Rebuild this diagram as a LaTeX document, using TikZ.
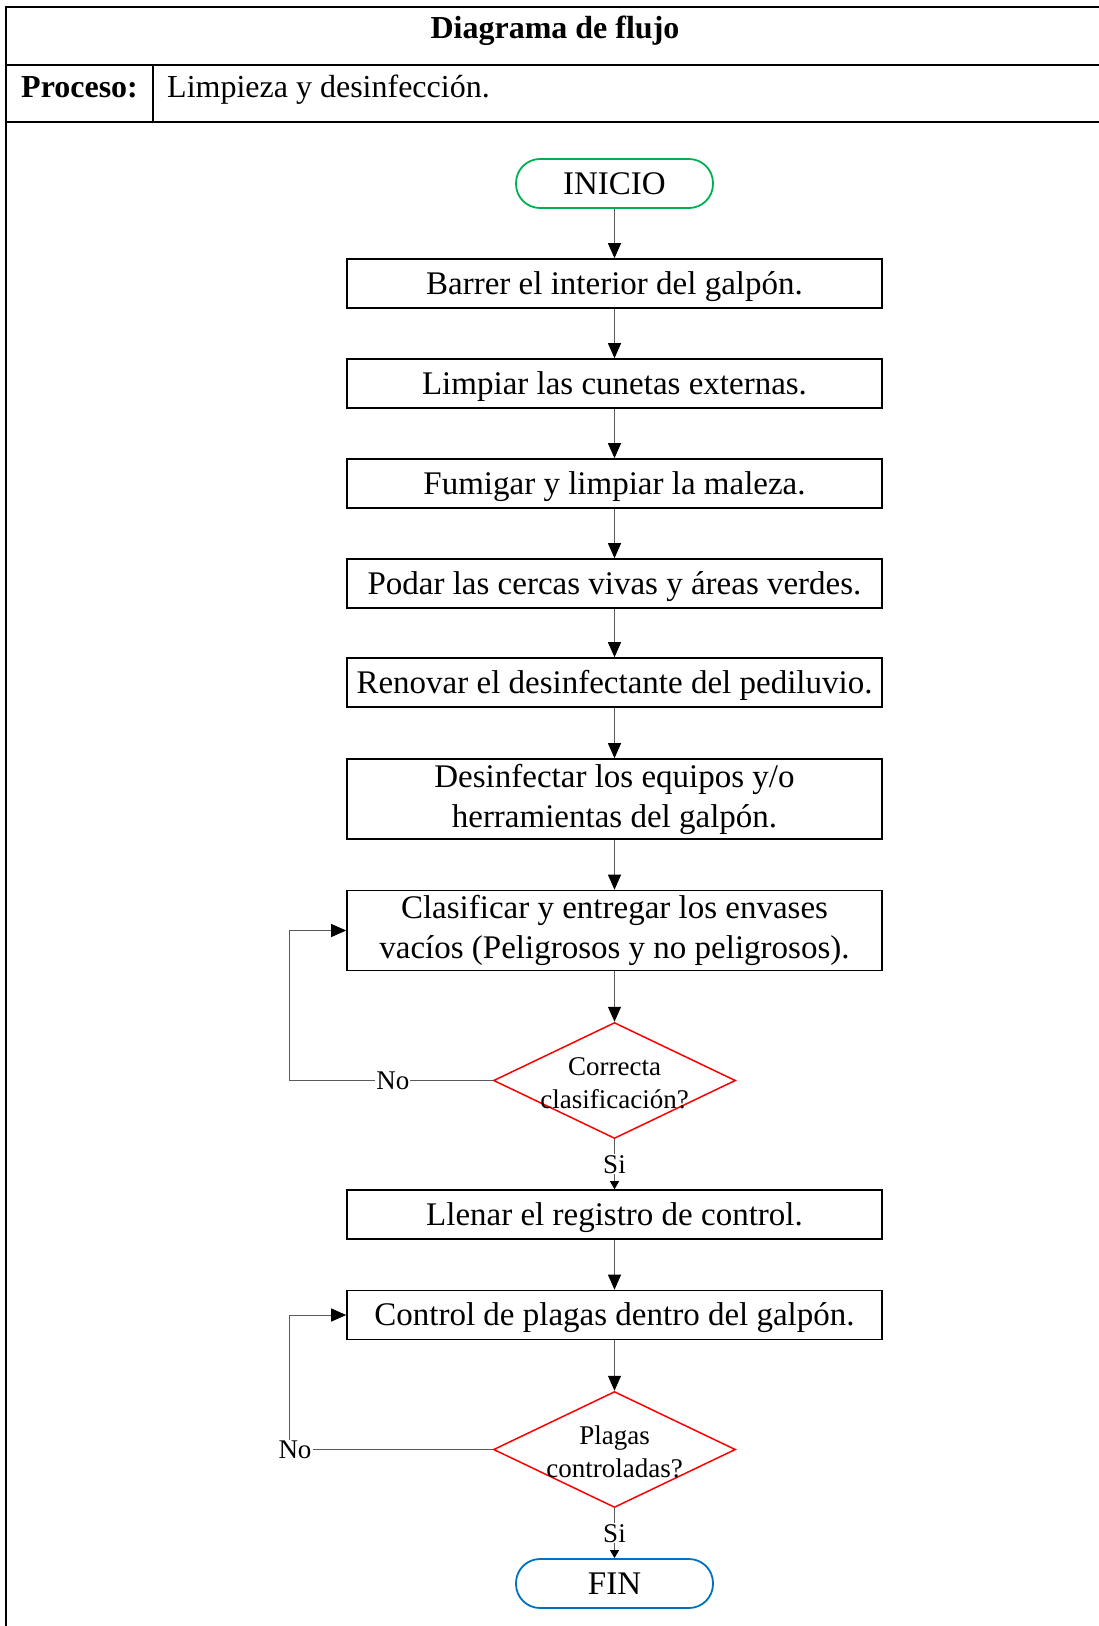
\documentclass[tikz,border=0pt]{standalone}
\usepackage{fontspec}
\setmainfont{Liberation Serif}
\usetikzlibrary{shapes.geometric,arrows.meta}
\definecolor{termgreen}{HTML}{00B050}
\definecolor{termblue}{HTML}{0070C0}
\definecolor{decred}{HTML}{FF0000}
\definecolor{linegray}{HTML}{5A5A5A}
\begin{document}
\begin{tikzpicture}[x=1pt,y=-1pt,
  frame/.style={draw=black, line width=2pt},
  procbox/.style={draw=black, line width=1.6pt, minimum width=535pt, minimum height=49pt,
    inner sep=0pt, align=center, text height=25pt, text depth=4pt, font=\fontsize{33}{40}\selectfont},
  twoline/.style={minimum height=80pt, text height=, text depth=},
  term/.style={rectangle, rounded corners=24pt, line width=1.8pt, minimum width=197pt,
    minimum height=49pt, inner sep=0pt, text height=25pt, text depth=4pt, font=\fontsize{33}{40}\selectfont},
  decision/.style={diamond, draw=decred, line width=1.5pt, minimum width=242pt,
    minimum height=116pt, inner sep=0pt},
  dtext/.style={align=center, inner sep=0pt, font=\fontsize{27}{33}\selectfont},
  flow/.style={draw=linegray, line width=1pt, -{Triangle[width=13pt,length=15pt,color=black]}},
  flowsmall/.style={draw=linegray, line width=1pt, -{Triangle[width=9pt,length=8pt,color=black]}},
  lbl/.style={fill=white, inner sep=1pt, font=\fontsize{27}{32}\selectfont}
]
\useasboundingbox (0,0) rectangle (1099,1626);
% frame
\draw[frame] (6,7) -- (1099,7);
\draw[frame] (6,65) -- (1099,65);
\draw[frame] (6,122) -- (1099,122);
\draw[frame] (6,6) -- (6,1626);
\draw[draw=black, line width=1.5pt] (153,65) -- (153,122);
\node[anchor=base, inner sep=0pt, font=\bfseries\fontsize{32}{38}\selectfont] (title) at (555,38) {Diagrama de flujo};
\node[anchor=base west, inner sep=0pt, font=\bfseries\fontsize{32}{38}\selectfont] (proc) at (21,97) {Proceso:};
\node[anchor=base west, inner sep=0pt, font=\fontsize{32}{38}\selectfont] (procname) at (167,97) {Limpieza y desinfección.};
% nodes
\node[term, draw=termgreen] (start) at (614.5,183.5) {INICIO};
\node[procbox] (b1) at (614.5,283.5) {Barrer el interior del galpón.};
\node[procbox] (b2) at (614.5,383.5) {Limpiar las cunetas externas.};
\node[procbox] (b3) at (614.5,483.5) {Fumigar y limpiar la maleza.};
\node[procbox] (b4) at (614.5,583.5) {Podar las cercas vivas y áreas verdes.};
\node[procbox] (b5) at (614.5,682.5) {Renovar el desinfectante del pediluvio.};
\node[procbox, twoline] (b6) at (614.5,799) {Desinfectar los equipos y/o\\herramientas del galpón.};
\node[procbox, twoline] (b7) at (614.5,930.5) {Clasificar y entregar los envases\\vacíos (Peligrosos y no peligrosos).};
\node[decision] (d1) at (614.5,1080.5) {};
\node[dtext] (d1t) at (614.5,1083) {Correcta\\clasificación?};
\node[procbox] (b8) at (614.5,1214.5) {Llenar el registro de control.};
\node[procbox] (b9) at (614.5,1315) {Control de plagas dentro del galpón.};
\node[decision] (d2) at (614.5,1449.5) {};
\node[dtext] (d2t) at (614.5,1452) {Plagas\\controladas?};
\node[term, draw=termblue] (end) at (614.5,1583.5) {FIN};
\coordinate (lp1) at (289,1080.5);
\coordinate (lp2) at (289,1449.5);
% connectors
\draw[flow] (start) -- (b1);
\draw[flow] (b1) -- (b2);
\draw[flow] (b2) -- (b3);
\draw[flow] (b3) -- (b4);
\draw[flow] (b4) -- (b5);
\draw[flow] (b5) -- (b6);
\draw[flow] (b6) -- (b7);
\draw[flow] (b7.south) -- (d1.north);
\draw[flowsmall] (d1.south) -- node[lbl] {Si} (b8.north);
\draw[flow] (d1.west) -- node[lbl, pos=0.49] {No} (lp1) |- (b7.west);
\draw[flow] (b8) -- (b9);
\draw[flow] (b9.south) -- (d2.north);
\draw[flowsmall] (d2.south) -- node[lbl] {Si} (end.north);
\draw[flow] (d2.west) -- (lp2) node[lbl, xshift=6pt] {No} |- (b9.west);
\end{tikzpicture}
\end{document}
